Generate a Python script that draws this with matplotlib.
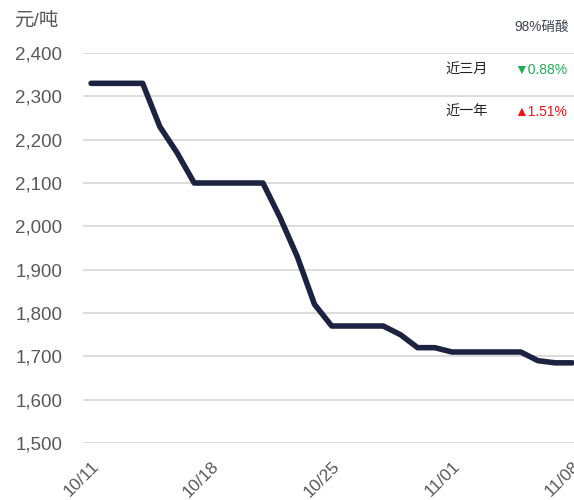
import numpy as np
import matplotlib.pyplot as plt

# daily prices, 10/11 .. 11/08
dates = ['10/11', '10/12', '10/13', '10/14', '10/15', '10/16', '10/17',
         '10/18', '10/19', '10/20', '10/21', '10/22', '10/23', '10/24',
         '10/25', '10/26', '10/27', '10/28', '10/29', '10/30', '10/31',
         '11/01', '11/02', '11/03', '11/04', '11/05', '11/06', '11/07',
         '11/08']
price = [2330, 2330, 2330, 2330, 2230, 2170, 2100,
         2100, 2100, 2100, 2100, 2020, 1930, 1820,
         1770, 1770, 1770, 1770, 1750, 1720, 1720,
         1710, 1710, 1710, 1710, 1710, 1690, 1685,
         1685]
yticks = [1500, 1600, 1700, 1800, 1900, 2000, 2100, 2200, 2300, 2400]

fam = ['Liberation Sans', 'Noto Sans CJK SC', 'DejaVu Sans']
plt.rcParams['font.family'] = fam

fig = plt.figure(figsize=(5.74, 5.0), dpi=100)
ax = fig.add_axes([0.1446, 0.114, 0.8554, 0.78])

x = np.arange(len(dates))
ax.plot(x, price, color='#1c2340', lw=4, solid_capstyle='round',
        solid_joinstyle='round', zorder=3, clip_on=False)

ax.set_ylim(1500, 2400)
ax.set_yticks(yticks)
ax.set_yticklabels(['{:,}'.format(v) for v in yticks])
ax.set_xlim(-0.47, 28.1)
ax.set_xticks(x[::7])
ax.set_xticklabels(dates[::7], rotation=45, ha='right', rotation_mode='anchor')
ax.grid(axis='y', color='#d9d9d9', lw=1.3)
ax.set_axisbelow(True)
for s in ax.spines.values():
    s.set_visible(False)
ax.tick_params(length=0, colors='#595959')
ax.tick_params(axis='y', pad=15, labelsize=13.5)
ax.tick_params(axis='x', pad=11, labelsize=12.5)

fig.text(0.024, 0.958, '元/吨', fontsize=14, color='#595959', va='center')
fig.text(0.991, 0.946, '98%硝酸', fontsize=9.8, color='#404556', ha='right', va='center')
fig.text(0.85, 0.861, '近三月', fontsize=10.2, color='#222222', ha='right', va='center')
fig.text(0.988, 0.861, '▼0.88%', fontsize=10, color='#1fae55', ha='right', va='center')
fig.text(0.85, 0.777, '近一年', fontsize=10.2, color='#222222', ha='right', va='center')
fig.text(0.988, 0.777, '▲1.51%', fontsize=10, color='#ee1111', ha='right', va='center')

fig.savefig('out.png', dpi=100)
